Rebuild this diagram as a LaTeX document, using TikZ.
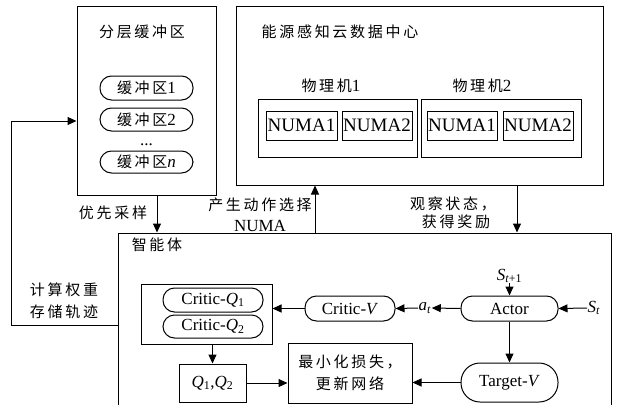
\documentclass[tikz,border=0pt]{standalone}
\usepackage{fontspec}
\setmainfont{Liberation Serif}
\newfontfamily\cjk[LetterSpace=18]{Noto Sans CJK SC}
\usetikzlibrary{arrows.meta,calc}
\newcommand\zh[1]{{\fontsize{15}{18}\selectfont\cjk #1}}
\begin{document}
\begin{tikzpicture}[x=1pt,y=-1pt,
  line width=1pt,
  lat/.style={font=\fontsize{17}{20}\selectfont},
  box/.style={draw,inner sep=0pt,lat},
  pill/.style={draw,inner sep=0pt,lat,rounded corners=11.5pt},
  numa/.style={draw,inner sep=0pt,minimum width=70pt,minimum height=29pt,font=\fontsize{19}{22}\selectfont},
  txt/.style={inner sep=0pt,lat,align=center},
  arr/.style={-{Triangle[length=9pt,width=8pt]}}]
\useasboundingbox (0,0) rectangle (620,404);

% buffer
\node[box,minimum width=139pt,minimum height=188pt] (buf) at (146.5,101) {};
\node[txt] (buft) at (142,32) {\zh{分层缓冲区}};
\node[pill,minimum width=93pt,minimum height=24pt] (b1) at (146.5,88) {\zh{缓冲区}1};
\node[pill,minimum width=93pt,minimum height=23pt] (b2) at (146.5,119.5) {\zh{缓冲区}2};
\node[txt] (bd) at (146.5,145) {...};
\node[pill,minimum width=93pt,minimum height=22pt] (bn) at (146.5,162) {\zh{缓冲区}\textit{n}};

% data center
\node[box,minimum width=367pt,minimum height=178pt] (dc) at (419.5,96) {};
\node[txt] (dct) at (340,32) {\zh{能源感知云数据中心}};
\node[txt] (pm1t) at (331,86) {\zh{物理机}1};
\node[txt] (pm2t) at (482,86) {\zh{物理机}2};
\node[box,minimum width=159pt,minimum height=58pt] (pm1) at (337.5,128) {};
\node[box,minimum width=160pt,minimum height=58pt] (pm2) at (501,128) {};
\node[numa,minimum width=71pt] (n11) at (301.5,125.5) {NUMA1};
\node[numa] (n12) at (377,125.5) {NUMA2};
\node[numa] (n21) at (462,125.5) {NUMA1};
\node[numa] (n22) at (538,125.5) {NUMA2};

% agent
\node[box,minimum width=493pt,minimum height=184pt] (agent) at (364.5,325) {};
\node[txt] (agt) at (157,245) {\zh{智能体}};
\node[box,minimum width=131pt,minimum height=60pt] (grp) at (206.5,314) {};
\node[pill,minimum width=100pt,minimum height=24pt] (cq1) at (213,300) {Critic-\textit{Q}\textsubscript{1}};
\node[pill,minimum width=100pt,minimum height=23pt] (cq2) at (213,326.5) {Critic-\textit{Q}\textsubscript{2}};
\node[box,minimum width=67pt,minimum height=38pt] (q12) at (212.5,383) {\textit{Q}\textsubscript{1},\textit{Q}\textsubscript{2}};
\node[box,minimum width=124pt,minimum height=60pt,align=center] (minb) at (350,373) {\zh{最小化损失，}\\[2pt]\zh{更新网络}};
\node[pill,minimum width=90pt,minimum height=25pt] (cv) at (350,308.5) {Critic-\textit{V}};
\node[txt] (at) at (425,308) {\textit{a}\textsubscript{\textit{t}}};
\node[pill,minimum width=97pt,minimum height=25pt] (actor) at (509.5,308.5) {Actor};
\node[txt] (st) at (594,308) {\textit{S}\textsubscript{\textit{t}}};
\node[txt] (st1) at (509.5,276) {\textit{S}\textsubscript{\textit{t}+1}};
\node[pill,minimum width=97pt,minimum height=39pt,rounded corners=19pt] (tv) at (509.5,382.5) {Target-\textit{V}};

% labels
\node[txt] (l1) at (113,213) {\zh{优先采样}};
\node[txt] (l2) at (260,205) {\zh{产生动作选择}};
\node[txt] (l3) at (260,226) {NUMA};
\node[txt] (l4) at (453,204) {\zh{观察状态，}};
\node[txt] (l5) at (456,222) {\zh{获得奖励}};
\node[txt] (l6) at (64,290) {\zh{计算权重}};
\node[txt] (l7) at (64,312) {\zh{存储轨迹}};

\coordinate (upx) at (315,0);
\coordinate (dnx) at (517,0);

% connectors
\draw[arr] (agent.west) -- ++(-106,0) |- ([yshift=-20pt]buf.west);
\draw[arr] ([xshift=10.5pt]buf.south) -- ([xshift=10.5pt]buf.south |- agent.north);
\draw[arr] (agent.north -| upx) -- (dc.south -| upx);
\draw[arr] (dc.south -| dnx) -- (agent.north -| dnx);
\draw[arr] (cv.west) -- (cv.west -| grp.east);
\draw[arr] (actor.west) -- (at.east);
\draw[arr] (at.west) -- (cv.east);
\draw[arr] (st.west) -- (actor.east);
\draw[arr] (st1.south) -- (actor.north);
\draw[arr] (actor.south) -- (tv.north);
\draw[arr] (tv.west) -- (tv.west -| minb.east);
\draw[arr] (grp.south -| q12.north) -- (q12.north);
\draw[arr] (q12.east) -- (q12.east -| minb.west);
\end{tikzpicture}
\end{document}
